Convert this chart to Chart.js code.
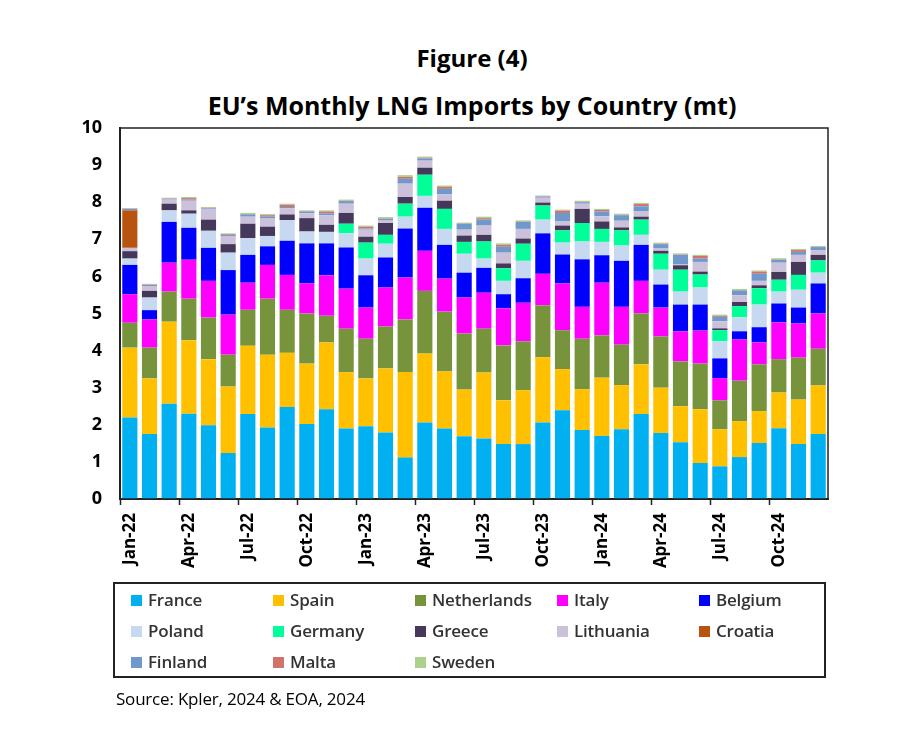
<!DOCTYPE html>
<html>
<head>
<meta charset="utf-8">
<script src="https://cdn.jsdelivr.net/npm/chart.js@4"></script>
<style>
  html, body { margin: 0; padding: 0; background: #fff; }
  body { width: 919px; height: 737px; position: relative; overflow: hidden; font-family: "Open Sans", "Noto Sans", sans-serif; }
  #wrap { position: absolute; left: 0; top: 0; width: 919px; height: 737px; }
  .title { position: absolute; left: 0; width: 944px; text-align: center; font-weight: 700; color: #000; }
  #legend { position: absolute; left: 113px; top: 582px; width: 709px; height: 92px; border: 2px solid #222; }
  .item { position: absolute; font-size: 17px; font-weight: 600; color: #333; line-height: 20px; white-space: nowrap; letter-spacing: -0.2px; }
  .item span.sw { display: inline-block; width: 11px; height: 11px; margin-right: 6px; vertical-align: 0px; }
  #source { position: absolute; left: 116px; top: 687px; font-size: 17px; color: #000; letter-spacing: -0.2px; }
</style>
</head>
<body>
<div class="title" style="top:41px; font-size:24px">Figure (4)</div>
<div class="title" style="top:88px; font-size:25px">EU’s Monthly LNG Imports by Country (mt)</div>
<div id="wrap"><canvas id="canvas" width="919" height="737"></canvas></div>
<div id="legend"></div>
<div id="source">Source: Kpler, 2024 &amp; EOA, 2024</div>
<script>
// months Jan-22 .. Dec-24
const months = [
  'Jan-22','Feb-22','Mar-22','Apr-22','May-22','Jun-22','Jul-22','Aug-22','Sep-22','Oct-22','Nov-22','Dec-22',
  'Jan-23','Feb-23','Mar-23','Apr-23','May-23','Jun-23','Jul-23','Aug-23','Sep-23','Oct-23','Nov-23','Dec-23',
  'Jan-24','Feb-24','Mar-24','Apr-24','May-24','Jun-24','Jul-24','Aug-24','Sep-24','Oct-24','Nov-24','Dec-24'
];
const yTicks = [0,1,2,3,4,5,6,7,8,9,10];

// mt per month
const france = [2.20,1.75,2.57,2.30,1.99,1.24,2.29,1.93,2.48,2.02,2.42,1.90, 1.96,1.79,1.12,2.06,1.90,1.69,1.63,1.48,1.48,2.06,2.39,1.86, 1.70,1.88,2.29,1.78,1.53,0.97,0.88,1.13,1.51,1.91,1.48,1.75];
const spain = [1.88,1.50,2.21,1.98,1.78,1.79,1.84,1.96,1.46,1.63,1.80,1.52, 1.29,1.73,2.30,1.86,1.54,1.26,1.78,1.18,1.45,1.76,1.11,1.10, 1.57,1.19,1.34,1.22,0.97,1.45,1.00,0.97,0.86,0.96,1.20,1.31];
const netherlands = [0.67,0.83,0.81,1.12,1.12,0.86,0.97,1.51,1.16,1.35,0.72,1.17, 1.07,1.13,1.42,1.69,1.61,1.51,1.18,1.48,1.32,1.40,1.05,1.36, 1.14,1.09,1.37,1.38,1.21,1.23,0.78,1.09,1.26,0.90,1.13,0.99];
const italy = [0.77,0.76,0.78,1.05,0.99,1.08,0.73,0.91,0.94,0.81,1.09,1.08, 0.84,1.05,1.13,1.08,0.89,0.97,0.97,1.00,1.04,0.85,1.26,0.86, 1.42,1.02,0.88,0.78,0.81,0.89,0.60,1.11,0.59,0.99,0.92,0.95];
const belgium = [0.79,0.25,1.10,0.86,0.89,1.20,0.75,0.50,0.92,1.08,0.86,1.11, 0.87,0.81,1.32,1.16,0.91,0.67,0.67,0.38,0.66,1.09,0.78,1.28, 0.74,1.24,0.97,0.62,0.72,0.70,0.53,0.22,0.41,0.51,0.43,0.81];
const poland = [0.17,0.34,0.31,0.38,0.46,0.47,0.45,0.28,0.56,0.32,0.31,0.38, 0.45,0.37,0.32,0.32,0.43,0.51,0.25,0.36,0.47,0.37,0.32,0.48, 0.36,0.41,0.27,0.40,0.35,0.46,0.46,0.38,0.61,0.32,0.48,0.29];
const germany = [0,0,0,0,0,0,0,0,0,0,0,0.26, 0.43,0.24,0.35,0.57,0.54,0.32,0.46,0.34,0.46,0.38,0.33,0.50, 0.35,0.41,0.41,0.43,0.59,0.35,0.30,0.30,0.44,0.32,0.40,0.33];
const greece = [0.20,0.18,0.18,0.09,0.30,0.23,0.39,0.25,0.15,0.36,0.19,0.29, 0.16,0.32,0.18,0.19,0.22,0.17,0.18,0.13,0.14,0.08,0.13,0.38, 0.20,0.08,0.08,0.08,0.12,0.08,0.05,0.11,0.08,0.21,0.35,0.15];
const lithuania = [0.09,0.13,0.11,0.26,0.29,0.22,0.19,0.22,0.17,0.13,0.26,0.25, 0.19,0.08,0.36,0.19,0.17,0.16,0.25,0.29,0.26,0.13,0.11,0.14, 0.14,0.18,0.14,0.06,0.02,0.26,0.19,0.18,0.12,0.25,0.19,0.12];
const croatia = [1.01,0,0,0,0,0,0,0,0,0,0,0, 0,0,0,0,0,0,0,0,0,0,0,0, 0,0,0,0,0,0,0,0,0,0,0,0];
const finland = [0.04,0.03,0.02,0.03,0.02,0.03,0.06,0.05,0.03,0.05,0.05,0.07, 0.03,0.03,0.13,0.06,0.15,0.16,0.16,0.16,0.19,0.03,0.23,0.04, 0.13,0.15,0.14,0.12,0.26,0.09,0.12,0.13,0.19,0.08,0.08,0.09];
const malta = [0.01,0.01,0.01,0.04,0.01,0.02,0.01,0.04,0.06,0.01,0.05,0.01, 0.05,0.01,0.05,0.02,0.05,0.01,0.04,0.05,0.01,0.01,0.06,0.01, 0.04,0.01,0.06,0.01,0.01,0.07,0.03,0.01,0.06,0.01,0.05,0.01];
const sweden = [0.01,0.02,0.02,0.03,0.02,0.02,0.03,0.03,0.03,0.02,0.03,0.03, 0.03,0.04,0.05,0.03,0.04,0.02,0.04,0.04,0.03,0.02,0.03,0.03, 0.03,0.03,0.03,0.03,0.03,0.03,0.03,0.03,0.03,0.03,0.03,0.02];

const series = [
  ['France', france, '#00B0F0'],
  ['Spain', spain, '#FFC000'],
  ['Netherlands', netherlands, '#77933C'],
  ['Italy', italy, '#FF00FF'],
  ['Belgium', belgium, '#0000FF'],
  ['Poland', poland, '#C6D9F1'],
  ['Germany', germany, '#00FF99'],
  ['Greece', greece, '#45385B'],
  ['Lithuania', lithuania, '#CCC1DA'],
  ['Croatia', croatia, '#B85410'],
  ['Finland', finland, '#6F98CC'],
  ['Malta', malta, '#D0736F'],
  ['Sweden', sweden, '#ADD08A']
];

// html legend, 5 columns
const legendBox = document.getElementById('legend');
series.forEach((s, i) => {
  const el = document.createElement('div');
  el.className = 'item';
  el.style.left = (16 + (i % 5) * 142) + 'px';
  el.style.top = (6 + Math.floor(i / 5) * 31) + 'px';
  el.innerHTML = '<span class="sw" style="background:' + s[2] + '"></span>' + s[0];
  legendBox.appendChild(el);
});

// box round the plot area
const frame = {
  id: 'frame',
  afterDraw(chart) {
    const a = chart.chartArea, c = chart.ctx;
    c.save();
    c.strokeStyle = '#222';
    c.lineWidth = 1.5;
    c.strokeRect(a.left, a.top, a.right - a.left, a.bottom - a.top);
    c.restore();
  }
};

window.onload = () => {
  const ctx = document.getElementById('canvas').getContext('2d');
  new Chart(ctx, {
    type: 'bar',
    data: {
      labels: months,
      datasets: series.map(s => ({
        label: s[0],
        data: s[1],
        backgroundColor: s[2],
        borderWidth: 0,
        categoryPercentage: 1,
        barPercentage: 0.77
      }))
    },
    options: {
      responsive: false,
      animation: false,
      layout: { padding: { left: 80, right: 91, top: 128, bottom: 163 } },
      plugins: { legend: { display: false }, title: { display: false }, tooltip: { enabled: false } },
      scales: {
        x: {
          stacked: true,
          afterFit(s) { s.height = 75; },
          border: { color: '#222', width: 2 },
          grid: {
            drawOnChartArea: false,
            tickLength: 6,
            tickWidth: 1.5,
            tickColor: c => (c.index % 3 === 0 ? '#222' : 'rgba(0,0,0,0)')
          },
          ticks: {
            autoSkip: false,
            minRotation: 90,
            maxRotation: 90,
            padding: 8,
            color: '#000',
            font: { family: '"Open Sans", sans-serif', size: 17, weight: 'bold' },
            callback: (v, i) => (i % 3 === 0 ? months[i] : '')
          }
        },
        y: {
          stacked: true,
          min: 0,
          max: 10,
          afterFit(s) { s.width = 40; },
          afterBuildTicks(s) { s.ticks = yTicks.map(v => ({ value: v })); },
          border: { color: '#222', width: 2 },
          grid: { display: false, drawTicks: false },
          ticks: {
            padding: 18,
            color: '#000',
            font: { family: '"Open Sans", sans-serif', size: 18, weight: 'bold' }
          }
        }
      }
    },
    plugins: [frame]
  });
};
</script>
</body>
</html>
